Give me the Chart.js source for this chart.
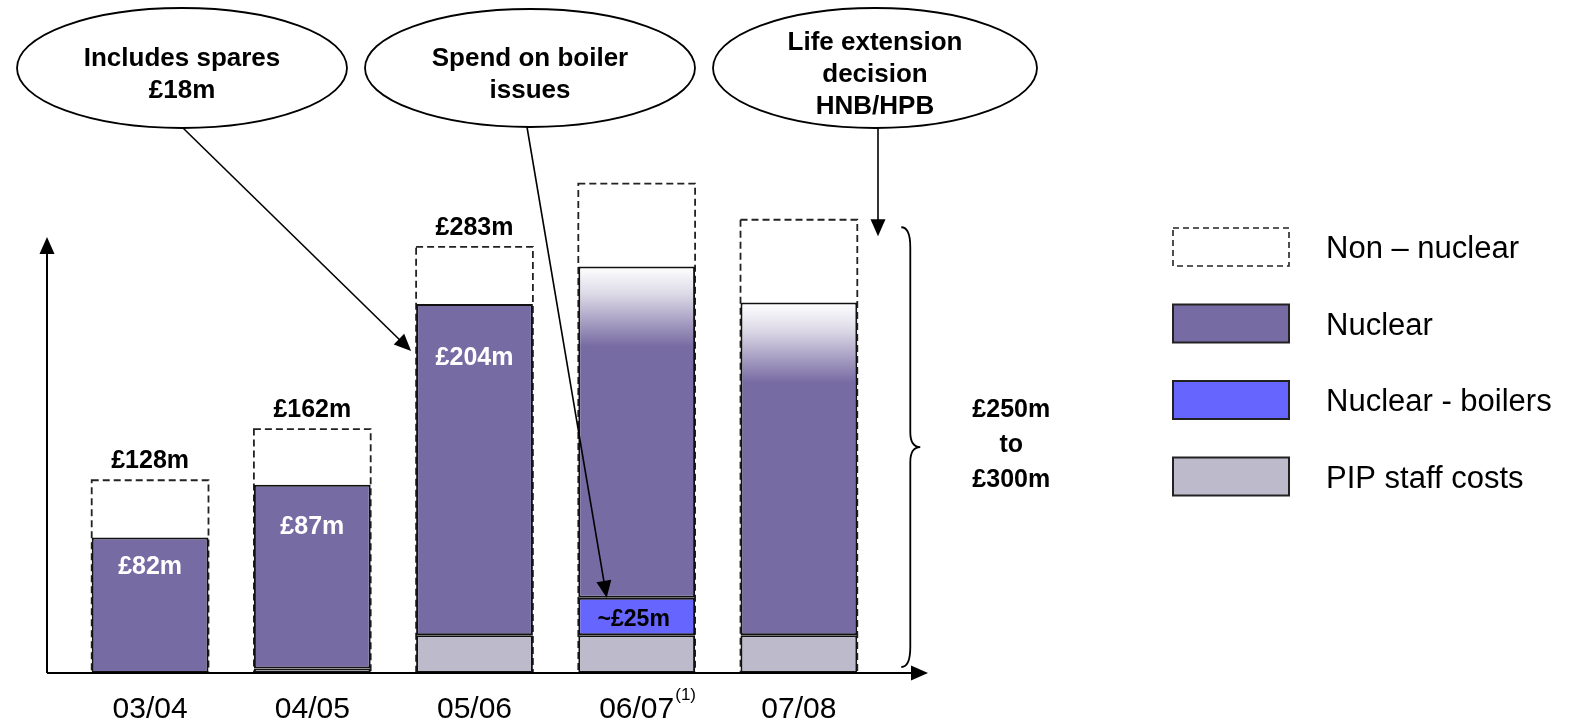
<!DOCTYPE html>
<html>
<head>
<meta charset="utf-8">
<script src="https://cdn.jsdelivr.net/npm/chart.js@4.4.1/dist/chart.umd.min.js"></script>
<style>
    html, body { margin: 0; padding: 0; background: #fff; }
    #wrap { width: 1575px; height: 721px; position: relative; }
</style>
</head>
<body>
<div id="wrap"><canvas id="chart-spend"></canvas></div>
<script>
// ===== DATA =====
const years = ['03/04', '04/05', '05/06', '06/07', '07/08'];
const yearNotes = ['', '', '', '(1)', ''];
const pipStaff = [0, 3, 25, 25, 25];
const nuclearBoilers = [0, 0, 0, 25, 0];
const nuclear = [90, 122, 220, 220, 221];
const nonNuclear = [38, 37, 38, 55, 55];
const forecast = [false, false, false, true, true];
const totalLabels = ['£128m', '£162m', '£283m', '', ''];
const nuclearLabels = ['£82m', '£87m', '£204m', '', ''];
const boilerLabels = ['', '', '', '~£25m', ''];

const PURPLE = '#776BA3';
const BLUE = '#6666FF';
const GREY = '#BDBBCB';
const FONT = '"Liberation Sans", Arial, sans-serif';

// Gradient for the forecast years (fades to white at the top)
function nuclearFill(context) {
    const chart = context.chart;
    const i = context.dataIndex;
    if (context.type !== 'data' || !forecast[i] || !chart.chartArea) return PURPLE;
    const top = chart.scales.y.getPixelForValue(pipStaff[i] + nuclearBoilers[i] + nuclear[i]);
    const g = chart.ctx.createLinearGradient(0, top, 0, top + 80);
    g.addColorStop(0, '#ffffff');
    g.addColorStop(0.35, '#DCD9E6');
    g.addColorStop(1, PURPLE);
    return g;
}

function text(c, str, x, y, font, color, align) {
    c.font = font;
    c.fillStyle = color || '#000';
    c.textAlign = align || 'center';
    c.textBaseline = 'alphabetic';
    c.fillText(str, x, y);
}

function arrow(c, x1, y1, x2, y2) {
    const a = Math.atan2(y2 - y1, x2 - x1);
    const len = 17, half = 7.5;
    c.beginPath();
    c.moveTo(x1, y1);
    c.lineTo(x2 - Math.cos(a) * len * 0.8, y2 - Math.sin(a) * len * 0.8);
    c.stroke();
    c.beginPath();
    c.moveTo(x2, y2);
    c.lineTo(x2 - len * Math.cos(a) + half * Math.sin(a), y2 - len * Math.sin(a) - half * Math.cos(a));
    c.lineTo(x2 - len * Math.cos(a) - half * Math.sin(a), y2 - len * Math.sin(a) + half * Math.cos(a));
    c.closePath();
    c.fill();
}

function bubble(c, cx, cy, rx, ry, lines) {
    c.beginPath();
    c.ellipse(cx, cy, rx, ry, 0, 0, Math.PI * 2);
    c.fillStyle = '#fff';
    c.fill();
    c.lineWidth = 1.8;
    c.strokeStyle = '#000';
    c.stroke();
    const first = cy - (lines.length - 1) * 16 + 14;
    lines.forEach((l, k) => text(c, l, cx, first + k * 32, 'bold 26px ' + FONT));
}

// Dashed outline for the non-nuclear part (drawn behind the solid bars)
const dashedTotals = {
    id: 'dashedTotals',
    beforeDatasetsDraw(chart) {
        const c = chart.ctx;
        const y0 = chart.scales.y.getPixelForValue(0);
        c.save();
        c.setLineDash([7, 4]);
        c.lineWidth = 1.8;
        c.strokeStyle = '#222';
        chart.getDatasetMeta(3).data.forEach(el => {
            const w = el.width;
            c.strokeRect(el.x - w / 2, el.y, w, y0 - el.y);
        });
        c.restore();
    }
};

// Axes, labels, callouts, brace and legend
const decorations = {
    id: 'decorations',
    afterDatasetsDraw(chart) {
        const c = chart.ctx;
        const y = chart.scales.y;
        const x = chart.scales.x;
        const area = chart.chartArea;
        const y0 = y.getPixelForValue(0);
        const ax = area.left - 22;
        c.save();
        c.strokeStyle = '#000';
        c.fillStyle = '#000';
        c.lineWidth = 2;

        // axes
        arrow(c, ax, y0, ax, 237);
        arrow(c, ax, y0, 928, y0);

        // value labels
        const metaBoil = chart.getDatasetMeta(1);
        const metaNuc = chart.getDatasetMeta(2);
        const metaNon = chart.getDatasetMeta(3);
        years.forEach((yr, i) => {
            const cx = x.getPixelForValue(i);
            if (totalLabels[i]) text(c, totalLabels[i], metaNon.data[i].x, metaNon.data[i].y - 12, 'bold 25px ' + FONT);
            const nuc = metaNuc.data[i];
            if (nuclearLabels[i]) {
                const h = nuc.base - nuc.y;
                text(c, nuclearLabels[i], nuc.x, nuc.y + Math.min(61, h * 0.27), 'bold 25px ' + FONT, '#fff');
            }
            const b = metaBoil.data[i];
            if (boilerLabels[i]) text(c, boilerLabels[i], b.x - 3, (b.y + b.base) / 2 + 9, 'bold 23px ' + FONT);
            text(c, yr, cx, 718, '30px ' + FONT);
            if (yearNotes[i]) {
                c.font = '30px ' + FONT;
                const w = c.measureText(yr).width;
                text(c, yearNotes[i], cx + w / 2 + 1, 700, '17px ' + FONT, '#000', 'left');
            }
        });

        // callouts
        bubble(c, 182, 68, 165, 60, ['Includes spares', '£18m']);
        bubble(c, 530, 68, 165, 59, ['Spend on boiler', 'issues']);
        bubble(c, 875, 68, 162, 60, ['Life extension', 'decision', 'HNB/HPB']);
        c.lineWidth = 1.6;
        c.fillStyle = '#000';
        const n3 = metaNuc.data[2];
        arrow(c, 183, 128, n3.x - n3.width / 2 - 5, n3.y + 47);
        const b4 = metaBoil.data[3];
        arrow(c, 527, 127, b4.x - 30, b4.y);
        const last = metaNon.data[4];
        const rightEdge = last.x + last.width / 2;
        arrow(c, 878, 128, 878, y.getPixelForValue(290));

        // brace
        const bx = rightEdge + 44;
        const top = y.getPixelForValue(296);
        const bot = y.getPixelForValue(4);
        const mid = (top + bot) / 2;
        c.lineWidth = 1.8;
        c.beginPath();
        c.moveTo(bx, top);
        c.quadraticCurveTo(bx + 9, top, bx + 9, top + 20);
        c.lineTo(bx + 9, mid - 15);
        c.quadraticCurveTo(bx + 9, mid, bx + 19, mid);
        c.quadraticCurveTo(bx + 9, mid, bx + 9, mid + 15);
        c.lineTo(bx + 9, bot - 20);
        c.quadraticCurveTo(bx + 9, bot, bx, bot);
        c.stroke();
        ['£250m', 'to', '£300m'].forEach((l, k) => text(c, l, bx + 110, 417 + k * 35, 'bold 25px ' + FONT));

        // legend
        const order = [3, 2, 1, 0];
        order.forEach((d, k) => {
            const ds = chart.data.datasets[d];
            const lx = 1173, ly = 228 + k * 76.5, lw = 116, lh = 38;
            c.save();
            if (d === 3) {
                c.setLineDash([6, 4]);
                c.lineWidth = 1.6;
                c.strokeStyle = '#222';
                c.strokeRect(lx, ly, lw, lh);
            } else {
                c.fillStyle = d === 2 ? PURPLE : ds.backgroundColor;
                c.fillRect(lx, ly, lw, lh);
                c.lineWidth = 2;
                c.strokeStyle = '#222';
                c.strokeRect(lx, ly, lw, lh);
            }
            c.restore();
            text(c, ds.label, 1326, ly + lh / 2 + 11, '31px ' + FONT, '#000', 'left');
        });
        c.restore();
    }
};

const chartSpend = new Chart(document.getElementById('chart-spend'), {
    type: 'bar',
    data: {
        labels: years,
        datasets: [
            { label: 'PIP staff costs', data: pipStaff, backgroundColor: GREY, borderColor: '#111', borderWidth: 2, borderSkipped: false },
            { label: 'Nuclear - boilers', data: nuclearBoilers, backgroundColor: BLUE, borderColor: '#111', borderWidth: 2, borderSkipped: false },
            { label: 'Nuclear', data: nuclear, backgroundColor: nuclearFill, borderColor: '#111', borderWidth: 2, borderSkipped: false },
            { label: 'Non – nuclear', data: nonNuclear, backgroundColor: 'rgba(0,0,0,0)', borderWidth: 0 }
        ]
    },
    options: {
        responsive: true,
        maintainAspectRatio: false,
        animation: false,
        events: [],
        layout: { padding: { left: 69, right: 695, top: 161, bottom: 48 } },
        datasets: { bar: { barPercentage: 0.72, categoryPercentage: 1 } },
        plugins: {
            legend: { display: false },
            tooltip: { enabled: false }
        },
        scales: {
            x: { stacked: true, display: false },
            y: { stacked: true, display: false, min: 0, max: 340 }
        }
    },
    plugins: [dashedTotals, decorations]
});
</script>
</body>
</html>
